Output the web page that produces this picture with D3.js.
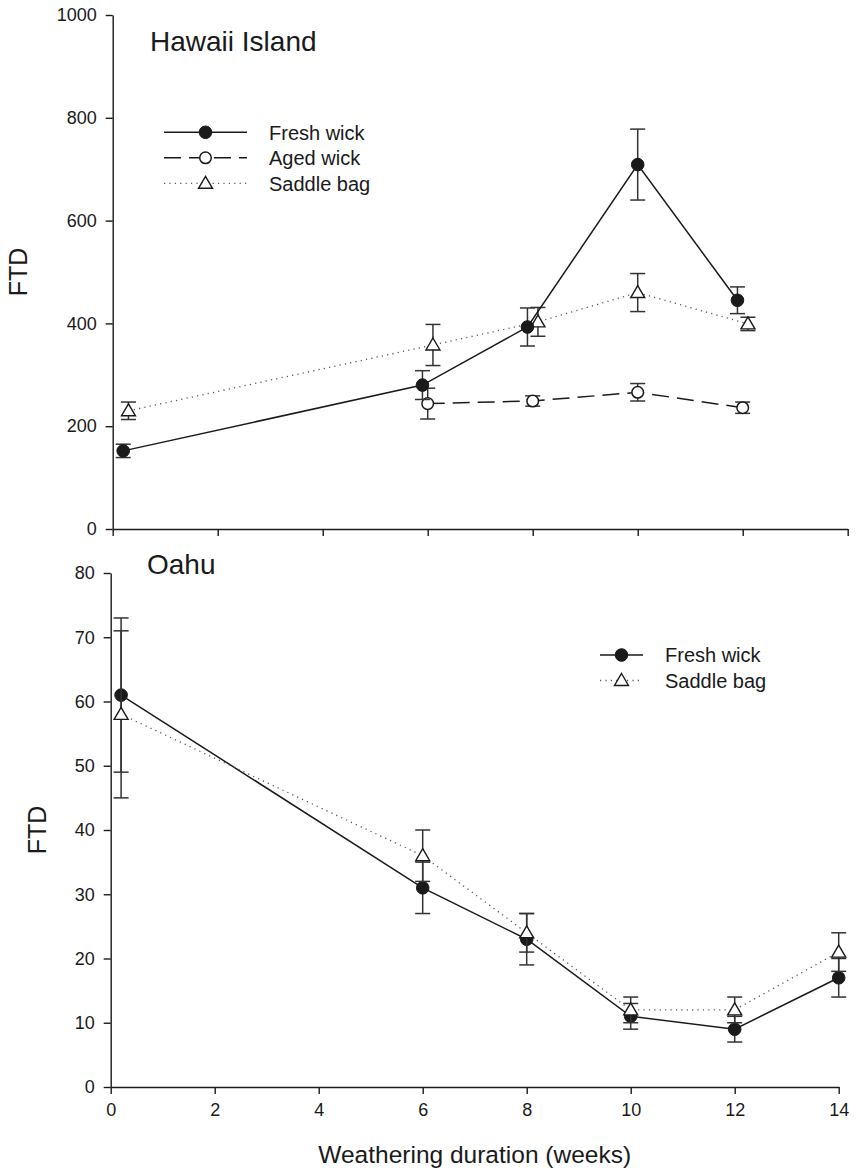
<!DOCTYPE html>
<html>
<head>
<meta charset="utf-8">
<script src="https://cdn.jsdelivr.net/npm/d3@7"></script>
<style>
  html, body { margin: 0; padding: 0; background: #fff; }
  svg { display: block; }
  text { font-family: "Liberation Sans", Arial, sans-serif; fill: #1a1a1a; }
</style>
</head>
<body>
<svg id="chart" width="856" height="1172"></svg>
<script>
// ---------------- DATA ----------------
const weekTicks = [0, 2, 4, 6, 8, 10, 12, 14];
const hawaiiTicks = [0, 200, 400, 600, 800, 1000];
const oahuTicks = [0, 10, 20, 30, 40, 50, 60, 70, 80];

// Hawaii Island
const hawaiiFreshX   = [0.2, 5.9, 7.9, 10.0, 11.9];
const hawaiiFreshY   = [152, 280, 393, 709, 445];
const hawaiiFreshErr = [13, 28, 37, 69, 26];

const hawaiiAgedX    = [6.0, 8.0, 10.0, 12.0];
const hawaiiAgedY    = [244, 249, 266, 236];
const hawaiiAgedErr  = [30, 10, 17, 11];

const hawaiiSaddleX   = [0.3, 6.1, 8.1, 10.0, 12.1];
const hawaiiSaddleY   = [230, 358, 403, 460, 399];
const hawaiiSaddleErr = [17, 40, 28, 37, 13];

// Oahu
const oahuX          = [0.2, 6, 8, 10, 12, 14];
const oahuFreshY     = [61, 31, 23, 11, 9, 17];
const oahuFreshErr   = [12, 4, 4, 2, 2, 3];
const oahuSaddleY    = [58, 36, 24, 12, 12, 21];
const oahuSaddleErr  = [13, 4, 3, 2, 2, 3];

const seriesNames = ["Fresh wick", "Aged wick", "Saddle bag"];

// ---------------- STYLES ----------------
const styles = {
  "Fresh wick": { dash: null, width: 1.5, color: "#1a1a1a", marker: "filled" },
  "Aged wick":  { dash: "17,8", width: 1.5, color: "#1a1a1a", marker: "open" },
  "Saddle bag": { dash: "1.2,4.2", width: 1.3, color: "#555", marker: "triangle" }
};

const svg = d3.select("#chart");
const FONT_TICK = 18, FONT_AXIS = 25, FONT_TITLE = 28, FONT_LEG = 20;

function markerPath(type) {
  if (type === "triangle") {
    const p = d3.path();
    p.moveTo(0, -7); p.lineTo(7, 5); p.lineTo(-7, 5); p.closePath();
    return p.toString();
  }
  return null;
}

function drawMarker(g, type, x, y) {
  if (type === "filled") {
    g.append("circle").attr("cx", x).attr("cy", y).attr("r", 6.3)
      .attr("fill", "#1a1a1a").attr("stroke", "#1a1a1a").attr("stroke-width", 1);
  } else if (type === "open") {
    g.append("circle").attr("cx", x).attr("cy", y).attr("r", 5.8)
      .attr("fill", "#fff").attr("stroke", "#1a1a1a").attr("stroke-width", 1.5);
  } else {
    g.append("path").attr("d", markerPath("triangle"))
      .attr("transform", `translate(${x},${y})`)
      .attr("fill", "#fff").attr("stroke", "#1a1a1a").attr("stroke-width", 1.4);
  }
}

function drawSeries(g, x, y, xs, ys, errs, name) {
  const st = styles[name];
  const pts = xs.map((d, i) => ({ x: d, y: ys[i], e: errs[i] }));
  const line = d3.line().x(d => x(d.x)).y(d => y(d.y));
  g.append("path").datum(pts).attr("d", line)
    .attr("fill", "none").attr("stroke", st.color).attr("stroke-width", st.width)
    .attr("stroke-dasharray", st.dash);
  // error bars
  const eb = g.append("g").attr("stroke", "#333").attr("stroke-width", 1.5).attr("fill", "none");
  pts.forEach(d => {
    const cx = x(d.x), y1 = y(d.y + d.e), y0 = y(d.y - d.e);
    eb.append("line").attr("x1", cx).attr("x2", cx).attr("y1", y1).attr("y2", y0);
    eb.append("line").attr("x1", cx - 7.5).attr("x2", cx + 7.5).attr("y1", y1).attr("y2", y1);
    eb.append("line").attr("x1", cx - 7.5).attr("x2", cx + 7.5).attr("y1", y0).attr("y2", y0);
  });
  pts.forEach(d => drawMarker(g, st.marker, x(d.x), y(d.y)));
}

function styleAxis(sel) {
  sel.select(".domain").attr("stroke", "#1a1a1a").attr("stroke-width", 1.4);
  sel.selectAll(".tick line").attr("stroke", "#1a1a1a").attr("stroke-width", 1.4);
  sel.selectAll(".tick text").attr("font-size", FONT_TICK)
    .attr("font-family", "Liberation Sans, Arial, sans-serif").attr("fill", "#1a1a1a");
}

function drawLegend(g, x0, y0, names, lineLen) {
  names.forEach((n, i) => {
    const st = styles[n];
    const yy = y0 + i * 25.5;
    const row = g.append("g");
    row.append("line").attr("x1", x0).attr("x2", x0 + lineLen).attr("y1", yy).attr("y2", yy)
      .attr("stroke", st.color).attr("stroke-width", st.width)
      .attr("stroke-dasharray", st.dash);
    drawMarker(row, st.marker, x0 + lineLen / 2, yy);
    row.append("text").attr("x", x0 + lineLen + 22).attr("y", yy).attr("dy", "0.36em")
      .attr("font-size", FONT_LEG).text(n);
  });
}

// ---------------- TOP PANEL: Hawaii Island ----------------
{
  const x = d3.scaleLinear().domain([0, 14]).range([112.7, 847.7]);
  const y = d3.scaleLinear().domain([0, 1000]).range([529, 15]);
  const g = svg.append("g");

  const xa = g.append("g").attr("transform", `translate(0,${y(0)})`)
    .call(d3.axisBottom(x).tickValues(weekTicks).tickSize(7).tickSizeOuter(0).tickFormat(""));
  styleAxis(xa);
  const ya = g.append("g").attr("transform", `translate(${x(0)},0)`)
    .call(d3.axisLeft(y).tickValues(hawaiiTicks).tickSize(7).tickSizeOuter(0).tickPadding(9)
      .tickFormat(d3.format("d")));
  styleAxis(ya);

  g.append("text").attr("x", 150).attr("y", 51).attr("font-size", FONT_TITLE).text("Hawaii Island");
  g.append("text").attr("transform", `translate(27,${(y(0) + y(1000)) / 2}) rotate(-90)`)
    .attr("text-anchor", "middle").attr("font-size", FONT_AXIS).text("FTD");

  const data = g.append("g");
  drawSeries(data, x, y, hawaiiSaddleX, hawaiiSaddleY, hawaiiSaddleErr, "Saddle bag");
  drawSeries(data, x, y, hawaiiAgedX, hawaiiAgedY, hawaiiAgedErr, "Aged wick");
  drawSeries(data, x, y, hawaiiFreshX, hawaiiFreshY, hawaiiFreshErr, "Fresh wick");

  drawLegend(g.append("g"), 164, 132.3, seriesNames, 83);
}

// ---------------- BOTTOM PANEL: Oahu ----------------
{
  const x = d3.scaleLinear().domain([0, 14]).range([110.7, 838.7]);
  const y = d3.scaleLinear().domain([0, 80]).range([1087, 573]);
  const g = svg.append("g");

  const xa = g.append("g").attr("transform", `translate(0,${y(0)})`)
    .call(d3.axisBottom(x).tickValues(weekTicks).tickSize(7).tickSizeOuter(0).tickPadding(9).tickFormat(d3.format("d")));
  styleAxis(xa);
  const ya = g.append("g").attr("transform", `translate(${x(0)},0)`)
    .call(d3.axisLeft(y).tickValues(oahuTicks).tickSize(7).tickSizeOuter(0).tickPadding(9));
  styleAxis(ya);

  g.append("text").attr("x", 147).attr("y", 574).attr("font-size", FONT_TITLE).text("Oahu");
  g.append("text").attr("transform", `translate(46,${(y(0) + y(80)) / 2}) rotate(-90)`)
    .attr("text-anchor", "middle").attr("font-size", FONT_AXIS).text("FTD");
  g.append("text").attr("x", (x(0) + x(14)) / 2).attr("y", 1163)
    .attr("text-anchor", "middle").attr("font-size", 24.5).text("Weathering duration (weeks)");

  const data = g.append("g");
  drawSeries(data, x, y, oahuX, oahuFreshY, oahuFreshErr, "Fresh wick");
  drawSeries(data, x, y, oahuX, oahuSaddleY, oahuSaddleErr, "Saddle bag");

  drawLegend(g.append("g"), 600, 655, ["Fresh wick", "Saddle bag"], 43);
}
</script>
</body>
</html>
